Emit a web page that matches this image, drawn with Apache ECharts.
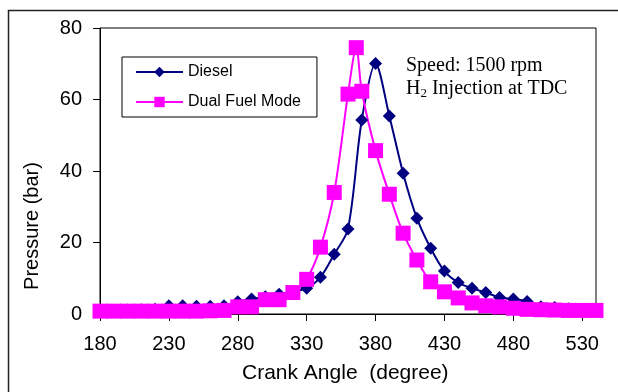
<!DOCTYPE html>
<html>
<head>
<meta charset="utf-8">
<script src="https://cdn.jsdelivr.net/npm/echarts@6/dist/echarts.min.js"></script>
<style>
html,body{margin:0;padding:0;background:#fff;}
#chart{width:618px;height:392px;}
</style>
</head>
<body>
<div id="chart"></div>
<script>
// ---- data ----
const crankAngleDiesel = [180,190,200,210,220,230,240,250,260,270,280,290,300,310,320,330,340,350,360,370,380,390,400,410,420,430,440,450,460,470,480,490,500,510,520,530,540];
const pressureDiesel   = [1.0,1.0,1.1,1.2,1.3,2.3,2.3,2.2,2.2,2.3,3.4,4.2,4.8,5.5,6.3,7.2,10.3,16.7,23.8,54.3,70.1,55.4,39.4,26.8,18.4,12.0,8.8,7.2,6.0,4.6,4.2,3.5,2.0,1.8,1.5,1.3,1.2];
const crankAngleDual   = [180,190,200,210,220,230,240,250,260,270,280,290,300,310,320,330,340,350,360,366,370,380,390,400,410,420,430,440,450,460,470,480,490,500,510,520,530,540];
const pressureDual     = [0.8,0.8,0.8,0.8,0.8,0.8,0.8,0.8,0.9,1.0,2.0,2.0,4.0,4.0,6.0,9.7,18.7,34.0,61.5,74.5,62.3,45.7,33.5,22.6,15.1,9.0,6.2,4.5,3.1,2.3,2.0,1.6,1.3,1.2,1.1,1.0,1.0,1.0];
const xTicks = [180,230,280,330,380,430,480,530];
const yTicks = [0,20,40,60,80];
const seriesNames = ['Diesel','Dual Fuel Mode'];

const zip = (xs, ys) => xs.map((x, i) => [x, ys[i]]);

const chart = echarts.init(document.getElementById('chart'), null, {renderer:'canvas'});
const font = 'Liberation Sans, Arial, sans-serif';
const serif = 'Liberation Serif, Times New Roman, serif';
chart.setOption({
  animation: false,
  backgroundColor: '#fff',
  grid: {left: 100, top: 28, right: 22, bottom: 78, show: true, borderColor: '#000', borderWidth: 1},
  xAxis: {
    type: 'value', min: 180, max: 540, interval: 50,
    axisLine: {show: true, onZero: false, lineStyle: {color: '#000', width: 1}},
    axisTick: {show: true, inside: false, length: 7, lineStyle: {color: '#000'}, customValues: xTicks},
    axisLabel: {show: true, margin: 20, fontSize: 20, color: '#000', fontFamily: font, customValues: xTicks},
    splitLine: {show: false}
  },
  yAxis: {
    type: 'value', min: 0, max: 80, interval: 20,
    axisLine: {show: true, lineStyle: {color: '#000', width: 1}},
    axisTick: {show: true, inside: false, length: 7, lineStyle: {color: '#000'}, customValues: yTicks},
    axisLabel: {show: true, margin: 18, fontSize: 20, color: '#000', fontFamily: font, customValues: yTicks},
    splitLine: {show: false}
  },
  legend: {
    left: 122, top: 57,
    orient: 'vertical',
    data: seriesNames,
    itemWidth: 47, itemHeight: 13, itemGap: 14,
    padding: [7, 16, 7, 13],
    borderColor: '#000', borderWidth: 1, borderRadius: 0,
    textStyle: {fontSize: 16, color: '#000', fontFamily: font},
    backgroundColor: '#fff'
  },
  series: [
    {
      name: seriesNames[0], type: 'line', data: zip(crankAngleDiesel, pressureDiesel),
      smooth: 0.3, symbol: 'diamond', symbolSize: 13,
      lineStyle: {color: '#000080', width: 2}, itemStyle: {color: '#000080'}
    },
    {
      name: seriesNames[1], type: 'line', data: zip(crankAngleDual, pressureDual),
      smooth: 0.3, symbol: 'rect', symbolSize: 15,
      lineStyle: {color: '#FF00FF', width: 2}, itemStyle: {color: '#FF00FF'}
    }
  ],
  graphic: [
    {type: 'rect', shape: {x: 8.5, y: 10.5, width: 700, height: 500}, style: {fill: 'none', stroke: '#222', lineWidth: 1.5}, silent: true},
    {type: 'text', x: 242, y: 373, style: {text: 'Crank Angle  (degree)', font: '21px ' + font, fill: '#000', textAlign: 'left', textVerticalAlign: 'middle'}},
    {type: 'text', x: 32, y: 226, rotation: Math.PI / 2, style: {text: 'Pressure (bar)', font: '20px ' + font, fill: '#000', textAlign: 'center', textVerticalAlign: 'middle'}},
    {type: 'text', x: 406, y: 66, style: {text: 'Speed: 1500 rpm', font: '20px ' + serif, fill: '#000', textAlign: 'left', textVerticalAlign: 'middle'}},
    {type: 'text', x: 406, y: 89, style: {
      text: '{a|H}{s|2}{a| Injection at TDC}', textAlign: 'left', textVerticalAlign: 'middle',
      rich: {
        a: {fontSize: 20, fontFamily: serif, fill: '#000', color: '#000'},
        s: {fontSize: 13, fontFamily: serif, fill: '#000', color: '#000', padding: [9, 0, 0, 0]}
      }
    }}
  ]
});
</script>
</body>
</html>
